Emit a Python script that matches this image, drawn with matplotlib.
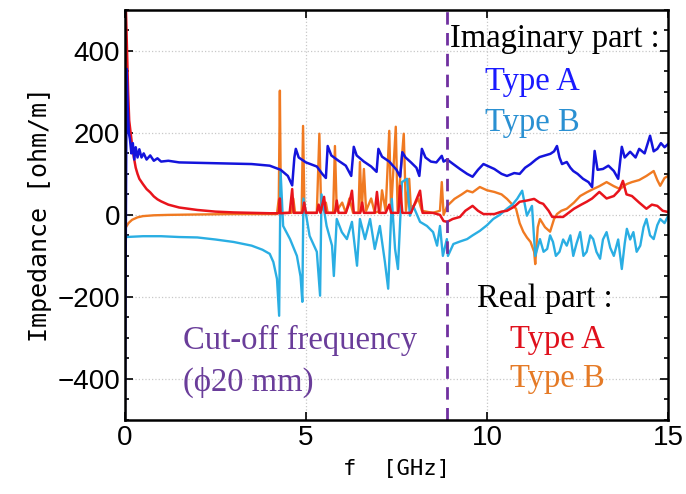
import numpy as np
from matplotlib import pyplot as plt
from matplotlib.ticker import MultipleLocator

# Imaginary part, Type A
f_imA = [0.0, 0.05, 0.08, 0.11, 0.14, 0.18, 0.22, 0.26, 0.3, 0.35, 0.4, 0.46, 0.52, 0.6, 0.7, 0.8, 0.9, 1.0,
         1.2, 1.5, 2.0, 2.5, 3.0, 3.5, 4.0, 4.3, 4.5, 4.62, 4.68, 4.72, 4.8, 5.0, 5.3, 5.45, 5.55, 5.6, 5.7,
         5.9, 6.1, 6.25, 6.32, 6.4, 6.6, 6.8, 6.95, 7.0, 7.1, 7.3, 7.5, 7.6, 7.66, 7.75, 7.9, 8.05, 8.13, 8.2,
         8.3, 8.45, 8.6, 8.75, 8.8, 8.9, 9.05, 9.25, 9.45, 9.6, 9.75, 9.9, 10.05, 10.2, 10.4, 10.55, 10.75,
         10.9, 11.05, 11.2, 11.35, 11.45, 11.6, 11.75, 11.85, 11.93, 12.0, 12.07, 12.2, 12.3, 12.38, 12.5,
         12.65, 12.8, 12.9, 12.97, 13.05, 13.2, 13.35, 13.5, 13.62, 13.72, 13.8, 13.95, 14.1, 14.2, 14.35,
         14.5, 14.6, 14.7, 14.8, 14.9, 15.0]
imA = [-500, 356, 260, 200, 185, 150, 175, 135, 165, 140, 160, 140, 150, 135, 145, 132, 138, 130,
       132, 128, 127, 126, 125, 124, 120, 110, 95, 72, 140, 161, 140, 128, 118, 100, 90, 168, 145,
       132, 120, 95, 166, 145, 130, 118, 105, 161, 142, 130, 110, 93, 153, 140, 128, 115, 95, 161,
       140, 130, 128, 144, 130, 135, 125, 112, 100, 93, 110, 124, 118, 112, 100, 95, 102,
       100, 115, 124, 135, 141, 145, 149, 155, 168, 140, 124, 129, 115, 107, 100,
       88, 80, 68, 156, 110, 112, 120, 107, 88, 166, 140, 154, 140, 161, 150,
       193, 155, 161, 175, 165, 173]

# Imaginary part, Type B
f_imB = [0.02, 0.5, 1.0, 1.5, 2.0, 2.5, 3.0, 3.5, 3.8, 4.0, 4.1, 4.2, 4.26, 4.3, 4.37, 4.56, 4.75, 4.85,
         4.9, 4.93, 5.1, 5.3, 5.39, 5.43, 5.57, 5.72, 5.77, 5.85, 5.99, 6.13, 6.27, 6.41, 6.49, 6.63, 6.77,
         6.9, 7.04, 7.18, 7.27, 7.37, 7.46, 7.54, 7.65, 7.79, 7.87, 7.96, 8.15, 8.34, 8.51, 8.62, 8.7, 8.78,
         8.89, 8.92, 9.07, 9.25, 9.45, 9.6, 9.8, 10.0, 10.17, 10.35, 10.55, 10.7, 10.83, 10.97, 11.1, 11.24,
         11.33, 11.46, 11.56, 11.66, 11.74, 11.82, 11.9, 12.0, 12.1, 12.2, 12.3, 12.38, 12.47, 12.57, 12.66,
         12.75, 12.85, 12.93, 13.02, 13.12, 13.2, 13.3, 13.4, 13.5, 13.62, 13.72, 13.8, 13.86, 13.95, 14.04,
         14.13, 14.23, 14.32, 14.4, 14.5, 14.6, 14.7, 14.78, 14.9, 15.0]
imB = [-54, -52, -52, -54, -55, -60, -66, -75, -85, -95, -115, -156, -246, 105, -27, -59, -100, -150,
       -212, 40, -51, -90, -197, 50, -27, -75, -149, -10, -42, -59, -17, -124, -10, -59, -10,
       -83, -27, -115, -180, 39, -83, -132, 80, 88, -2, 22, -17, -27, -42, -75, -27, -100,
       -59, -100, -71, -65, -59, -50, -39, -25, -10, 0, 15, 25, 39, 59, -2, 22,
       -100, -59, -90, -83, -50, -66, -100, -90, -60, -75, -50, -100, -70, -42, -100,
       -90, -50, -59, -90, -107, -60, -42, -80, -100, -60, -132, -70, -34, -60, -42,
       -90, -75, -30, -10, -50, -59, -25, -10, -20, -2]

# Real part, Type A
f_reA = [0.03, 0.06, 0.09, 0.12, 0.16, 0.2, 0.25, 0.3, 0.35, 0.4, 0.5, 0.6, 0.7, 0.8, 0.9, 1.0, 1.2, 1.5,
         2.0, 2.5, 3.0, 3.5, 4.0, 4.25, 4.28, 4.3, 4.55, 4.62, 4.66, 4.9, 4.95, 5.0, 5.3, 5.35, 5.4, 5.5,
         5.55, 5.8, 5.85, 5.9, 6.1, 6.2, 6.27, 6.32, 6.5, 6.55, 6.6, 6.9, 6.96, 7.02, 7.2, 7.3, 7.35, 7.55,
         7.6, 7.66, 7.9, 8.15, 8.22, 8.5, 8.7, 8.8, 8.9, 9.05, 9.25, 9.4, 9.6, 9.75, 9.9, 10.2, 10.4, 10.55,
         10.75, 10.9, 11.1, 11.3, 11.45, 11.55, 11.7, 11.8, 12.1, 12.25, 12.4, 12.6, 12.75, 12.9, 13.1, 13.3,
         13.5, 13.65, 13.75, 13.85, 14.0, 14.2, 14.4, 14.55, 14.7, 14.85, 15.0]
reA = [500, 400, 300, 230, 200, 170, 140, 115, 100, 88, 75, 63, 55, 45, 38, 33, 25, 18,
       12, 8, 6, 5, 4, 4, 40, 4, 5, 63, 5, 5, 30, 5, 5, 25, 5, 44,
       5, 5, 35, 5, 5, 30, 59, 5, 5, 30, 5, 5, 56, 5, 5, 25, 5, 5,
       71, 5, 5, 59, 5, 5, 0, -15, -17, -10, -5, 10, 22, 10, 2, 2, 8, 10,
       20, 32, 35, 39, 30, 27, 10, -5, -5, 5, 15, 25, 32, 40, 56, 40,
       46, 60, 83, 50, 46, 30, 15, 25, 22, 10, 7]

# Real part, Type B
f_reB = [0.0, 0.03, 0.1, 0.2, 0.35, 0.5, 0.8, 1.2, 2.0, 3.0, 4.0, 4.2, 4.25, 4.28, 4.31, 4.6, 4.65, 4.7,
         4.88, 4.92, 4.96, 5.3, 5.37, 5.42, 5.55, 5.6, 5.75, 5.8, 5.85, 6.0, 6.1, 6.2, 6.3, 6.45, 6.49, 6.54,
         6.6, 6.66, 6.8, 6.9, 7.05, 7.1, 7.2, 7.3, 7.35, 7.48, 7.53, 7.7, 7.76, 7.85, 7.9, 8.1, 8.2, 8.5,
         8.7, 8.75, 8.8, 8.9, 9.1, 9.3, 9.45, 9.6, 9.8, 10.0, 10.2, 10.4, 10.55, 10.7, 10.8, 10.9, 11.0, 11.1,
         11.2, 11.3, 11.33, 11.4, 11.46, 11.6, 11.74, 11.85, 11.93, 12.05, 12.2, 12.4, 12.57, 12.75, 12.93,
         13.1, 13.3, 13.5, 13.67, 13.85, 14.0, 14.2, 14.4, 14.6, 14.7, 14.78, 14.9, 15.0]
reB = [-40, -30, -20, -12, -6, -3, -1, 0, 1, 2, 2, 2, 40, 303, 5, 5, 40, 5,
       5, 217, 5, 5, 198, 10, 30, 5, 5, 168, 10, 30, 5, 40, 5, 5, 129, 10,
       112, 10, 40, 5, 10, 60, 10, 205, 10, 215, 10, 198, 10, 88, 10, 40, 10, 5,
       10, 80, 0, 22, 39, 50, 59, 55, 68, 60, 56, 50, 39, 25, 15, -20, -41, -55,
       -66, -90, -120, -30, -10, -30, -41, -10, 2, 10, 15, 30, 46, 55, 63,
       70, 80, 70, 63, 75, 80, 85, 95, 107, 85, 71, 90, 95]

f_cutoff = 8.9

fig = plt.figure(figsize=(6.86, 4.94), dpi=100)
ax = fig.add_axes([0.182, 0.150, 0.792, 0.830])

ax.plot(f_reB, reB, color="#f07a22", lw=1.7)
ax.plot(f_imB, imB, color="#2aaee3", lw=1.7)
ax.plot(f_reA, reA, color="#e8141c", lw=1.8)
ax.plot(f_imA, imA, color="#1414dc", lw=1.8)
ax.axvline(f_cutoff, color="#7030a0", lw=2, ls=(0, (4.5, 3)))

ax.set_xlim(0, 15)
ax.set_ylim(-500, 500)
ax.set_xticks([0, 5, 10, 15])
ax.set_yticks([-400, -200, 0, 200, 400])
ax.yaxis.set_minor_locator(MultipleLocator(50))
ax.grid(True, color="#c8c8c8", ls=":", lw=0.9)
ax.tick_params(which="both", direction="in", top=True, right=True, labelsize=20, width=1.2)
ax.tick_params(which="major", length=6)
ax.tick_params(which="minor", length=3)
for lab in ax.get_xticklabels() + ax.get_yticklabels():
    lab.set_family("Liberation Sans")
for s in ax.spines.values():
    s.set_linewidth(1.8)

ax.set_xlabel("f  [GHz]", family="DejaVu Sans Mono", fontsize=16, labelpad=6)
ax.set_ylabel("Impedance [ohm/m]", family="DejaVu Sans Mono", fontsize=18, labelpad=4)

serif = ["Liberation Serif", "DejaVu Serif"]
fs = 23.5
ax.text(8.98, 410, "Imaginary part :", color="black", fontsize=fs, family=serif)
ax.text(9.94, 305, "Type A", color="#1a1aff", fontsize=fs, family=serif)
ax.text(9.94, 205, "Type B", color="#2a90d2", fontsize=fs, family=serif)
ax.text(9.72, -224, "Real part :", color="black", fontsize=fs, family=serif)
ax.text(10.64, -324, "Type A", color="#e0101c", fontsize=fs, family=serif)
ax.text(10.64, -420, "Type B", color="#e57a26", fontsize=fs, family=serif)
ax.text(1.6, -327, "Cut-off frequency", color="#6a3d9a", fontsize=fs, family=serif)
ax.text(1.6, -429, "(\u03d520 mm)", color="#6a3d9a", fontsize=fs, family=serif)

plt.savefig("out.png")
